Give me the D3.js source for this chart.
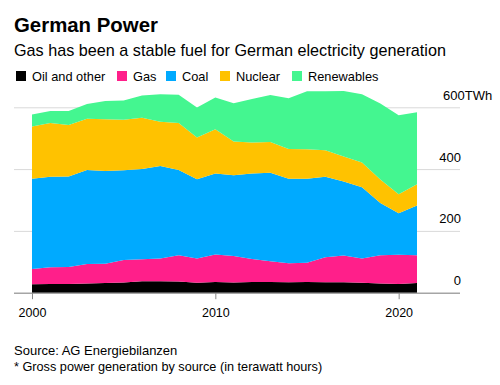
<!DOCTYPE html>
<html>
<head>
<meta charset="utf-8">
<script src="https://cdn.jsdelivr.net/npm/d3@7"></script>
<style>
  body { margin: 0; background: #fff; }
  text { font-family: "Liberation Sans", Arial, sans-serif; }
</style>
</head>
<body>
<div id="chart"></div>
<script>
// gross power generation by source, TWh
var years = [2000,2001,2002,2003,2004,2005,2006,2007,2008,2009,2010,2011,2012,2013,2014,2015,2016,2017,2018,2019,2020,2021]
var oil = [27,28,28,30,31,33,37,37,36,32,35,33,35,35,34,35,34,34,32,30,28,31]
var gas = [50,54,55,63,63,73,71,74,85,79,89,86,74,67,61,62,81,86,79,91,95,90]
var coal = [292,293,293,304,300,290,292,299,276,256,262,261,277,286,274,272,260,240,230,169,134,161]
var nuclear = [169,174,167,166,167,164,166,143,152,135,143,109,100,100,96,95,86,81,80,76,62,69]
var renewables = [39,39,45,48,59,62,72,89,92,97,103,124,141,152,164,188,191,212,221,246,255,233]

var seriesNames = ["Oil and other", "Gas", "Coal", "Nuclear", "Renewables"]
var seriesColors = ["#000000", "#ff1f8a", "#00aaff", "#ffc200", "#44f690"]
var yTicks = [0, 200, 400, 600]
var xTicks = [2000, 2010, 2020]

var width = 500, height = 385

var svg = d3.select("#chart").append("svg")
  .attr("width", width)
  .attr("height", height)

// table for the stack
var rows = years.map(function(yr, i) {
  return {year: yr, "Oil and other": oil[i], "Gas": gas[i], "Coal": coal[i], "Nuclear": nuclear[i], "Renewables": renewables[i]}
})

var x = d3.scaleLinear().domain([2000, 2021]).range([32, 417])
var y = d3.scaleLinear().domain([0, 600]).range([292.7, 107.3])

var color = d3.scaleOrdinal().domain(seriesNames).range(seriesColors)

// title block
svg.append("text").attr("x", 14).attr("y", 32)
  .style("font-size", "20.4px").style("font-weight", "bold")
  .text("German Power")
svg.append("text").attr("x", 14).attr("y", 56)
  .style("font-size", "16.2px")
  .text("Gas has been a stable fuel for German electricity generation")

// legend
var legendX = [16, 117, 166, 220, 292]
var legend = svg.append("g").selectAll("g")
  .data(seriesNames)
  .enter().append("g")
  .attr("transform", function(d, i) { return "translate(" + legendX[i] + ",71)" })
legend.append("rect").attr("width", 10).attr("height", 10)
  .attr("fill", function(d) { return color(d) })
legend.append("text").attr("x", 16).attr("y", 9.5)
  .style("font-size", "12.8px")
  .text(function(d) { return d })

// gridlines + y labels
var yAxis = svg.append("g")
  .attr("transform", "translate(14,0)")
  .call(d3.axisRight(y).tickValues(yTicks).tickSize(446).tickFormat(""))
yAxis.select(".domain").remove()
yAxis.selectAll(".tick line").attr("stroke", "#d9d9d9")

svg.append("g").selectAll("text")
  .data(yTicks)
  .enter().append("text")
  .attr("x", function(d) { return d == 600 ? 443 : 461 })
  .attr("y", function(d) { return y(d) - 7.5 })
  .attr("text-anchor", function(d) { return d == 600 ? "start" : "end" })
  .style("font-size", "13px")
  .text(function(d) { return d == 600 ? d + "TWh" : d })

// stacked areas
var stack = d3.stack().keys(seriesNames)
var layers = stack(rows)

var area = d3.area()
  .x(function(d) { return x(d.data.year) })
  .y0(function(d) { return y(d[0]) })
  .y1(function(d) { return y(d[1]) })

svg.append("g").selectAll("path")
  .data(layers)
  .enter().append("path")
  .attr("fill", function(d) { return color(d.key) })
  .attr("d", area)

// x axis
svg.append("line")
  .attr("x1", 14).attr("x2", 460)
  .attr("y1", y(0) + 0.5).attr("y2", y(0) + 0.5)
  .attr("stroke", "#888")
var xAxis = svg.append("g")
  .attr("transform", "translate(0," + (y(0) + 0.5) + ")")
  .call(d3.axisBottom(x).tickValues(xTicks).tickFormat(d3.format("d")).tickSize(6).tickPadding(9))
xAxis.select(".domain").remove()
xAxis.selectAll(".tick line").attr("stroke", "#888")
xAxis.selectAll(".tick text")
  .style("font-family", "'Liberation Sans', Arial, sans-serif")
  .style("font-size", "12.5px").attr("fill", "#000")

// footnotes
svg.append("text").attr("x", 14).attr("y", 355)
  .style("font-size", "13px")
  .text("Source: AG Energiebilanzen")
svg.append("text").attr("x", 14).attr("y", 371)
  .style("font-size", "12.7px")
  .text("* Gross power generation by source (in terawatt hours)")
</script>
</body>
</html>
